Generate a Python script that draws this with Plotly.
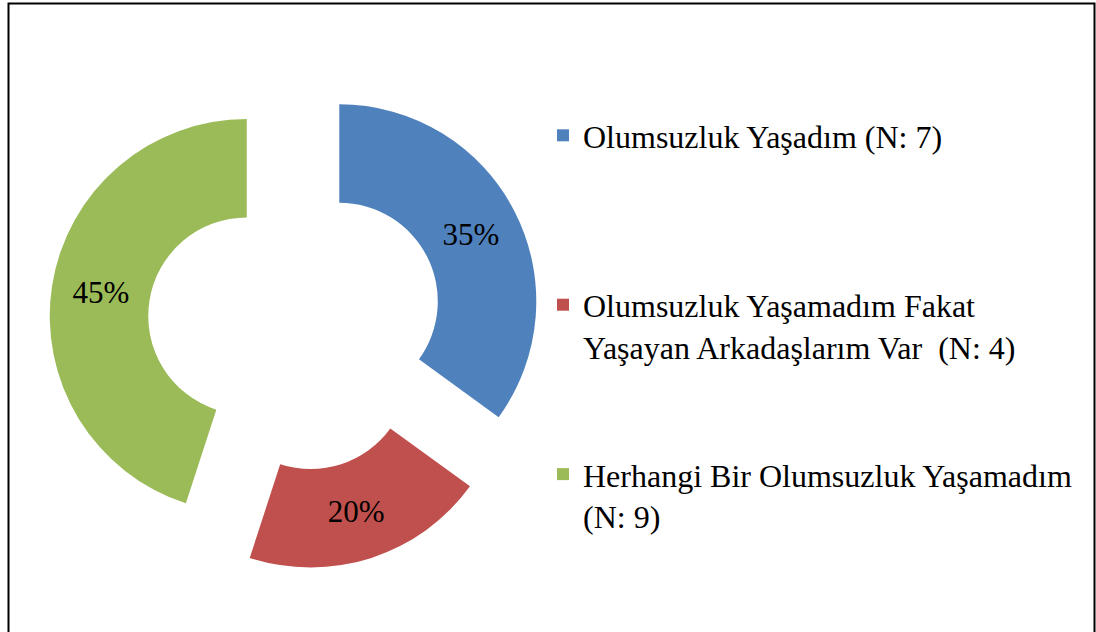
import plotly.graph_objects as go

# ---- data ----
categories = [
    "Olumsuzluk Yaşadım (N: 7)",
    "Olumsuzluk Yaşamadım Fakat<br>Yaşayan Arkadaşlarım Var\u00a0 (N: 4)",
    "Herhangi Bir Olumsuzluk Yaşamadım<br>(N: 9)",
]
counts = [7, 4, 9]
colors = ["#4F81BD", "#C0504D", "#9BBB59"]

# ---- layout constants ----
W, H = 1096, 632
FONT = "Liberation Serif, Times New Roman, serif"
LEG_SIZE = 32
PULL = 0.25

# pie box (pixels): centre and side
pcx, pcy, box = 295.4, 323.7, 492.5
dom_x = [(pcx - box / 2) / W, (pcx + box / 2) / W]
dom_y = [1 - (pcy + box / 2) / H, 1 - (pcy - box / 2) / H]

# pad legend entries with blank lines so items are spaced like the reference
lines_per_item = 4
legend_labels = []
for i, c in enumerate(categories):
    n = c.count("<br>") + 1
    pad = "" if i == len(categories) - 1 else "<br>\u00a0" * (lines_per_item - n)
    legend_labels.append(c + pad)

fig = go.Figure(
    go.Pie(
        labels=legend_labels,
        values=counts,
        hole=0.5,
        pull=PULL,
        sort=False,
        direction="clockwise",
        rotation=0,
        marker=dict(colors=colors, line=dict(width=0)),
        textinfo="percent",
        textposition="inside",
        insidetextorientation="horizontal",
        textfont=dict(family=FONT, size=31, color="black"),
        domain=dict(x=dom_x, y=dom_y),
        hoverinfo="label+value+percent",
    )
)

fig.update_layout(
    width=W,
    height=H,
    margin=dict(l=0, r=0, t=0, b=0),
    paper_bgcolor="white",
    plot_bgcolor="white",
    showlegend=True,
    legend=dict(
        x=543 / W,
        y=1 - 108 / H,
        xanchor="left",
        yanchor="top",
        valign="top",
        font=dict(family=FONT, size=LEG_SIZE, color="black"),
        bgcolor="rgba(0,0,0,0)",
        borderwidth=0,
    ),
    shapes=[
        dict(
            type="rect",
            xref="paper",
            yref="paper",
            x0=8.5 / W,
            x1=1094.5 / W,
            y0=-0.02,
            y1=1 - 3.5 / H,
            line=dict(color="black", width=2),
            fillcolor="rgba(0,0,0,0)",
            layer="above",
        )
    ],
)

fig.write_html(
    "out.html",
    config={"displayModeBar": False},
    post_script="document.body.style.margin='0';document.body.style.overflow='hidden';",
)
